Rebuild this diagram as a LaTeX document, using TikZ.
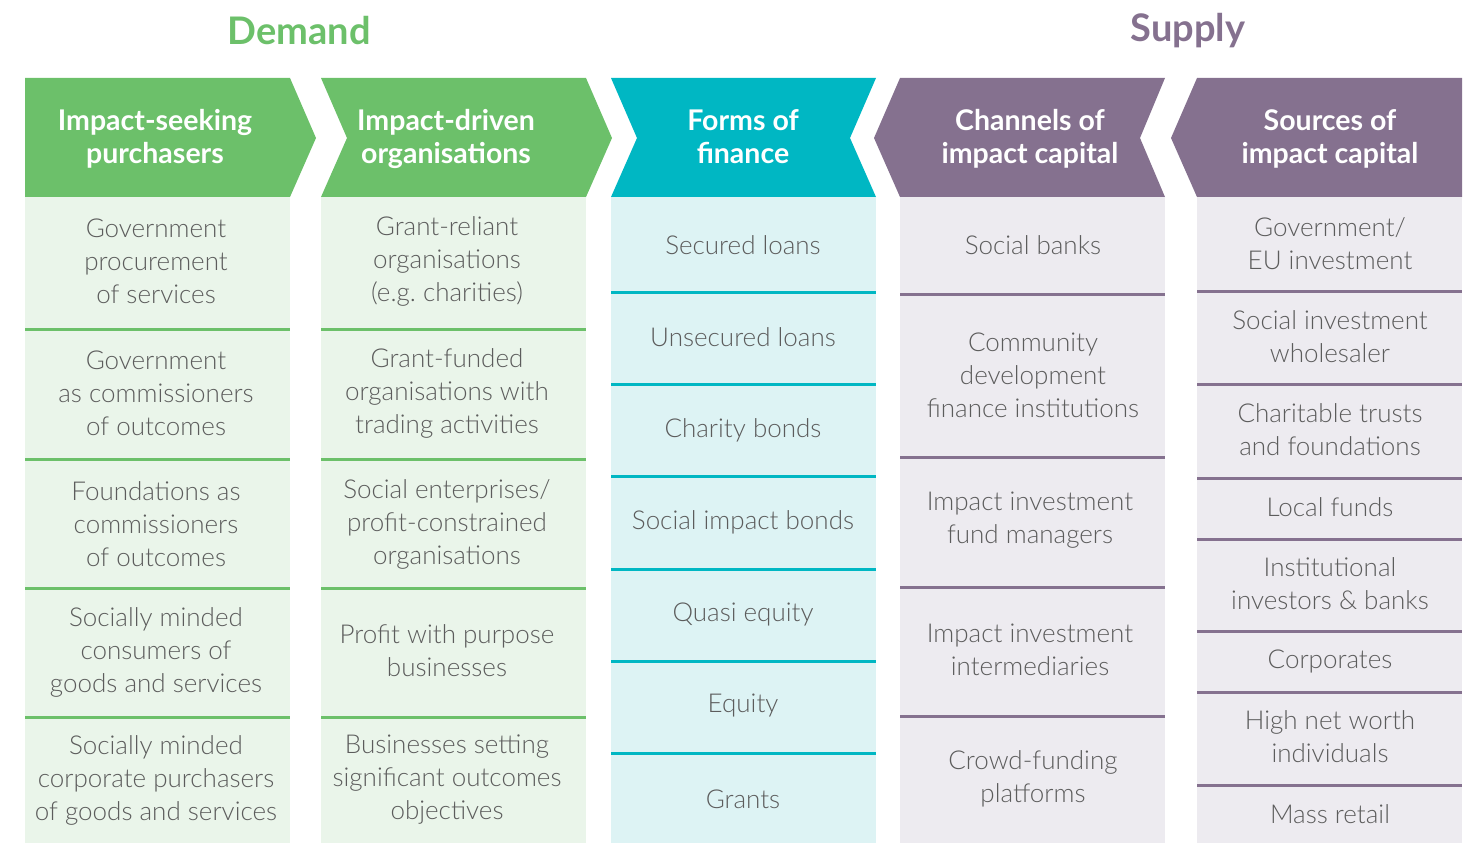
\documentclass[tikz,border=0pt]{standalone}
\usepackage{fontspec}
\setmainfont{Lato}[UprightFont={* Light},BoldFont={* Bold}]
\definecolor{dgreen}{HTML}{6CC06A}
\definecolor{lgreen}{HTML}{EAF5EA}
\definecolor{dteal}{HTML}{00B7C3}
\definecolor{lteal}{HTML}{DDF3F4}
\definecolor{dpurple}{HTML}{85718F}
\definecolor{lpurple}{HTML}{EDEBF0}
\definecolor{txtgray}{HTML}{5C5C5C}
\tikzset{
  hdr/.style={text=white,font=\fontsize{28.5}{33}\selectfont\bfseries,align=center},
  cell/.style={text=txtgray,font=\fontsize{26}{33}\selectfont,align=center},
  ttl/.style={font=\fontsize{38}{42}\selectfont\bfseries},
  sep/.style={line width=3pt}
}
\begin{document}
\begin{tikzpicture}[x=1pt,y=-1pt]
\useasboundingbox (0,0) rectangle (1465,843);
% titles
\node[ttl,text=dgreen] (demand) at (299,31) {Demand};
\node[ttl,text=dpurple] (supply) at (1188,31) {Supply};
% header arrows
\fill[dgreen] (25,78) -- (290,78) -- (316,138) -- (290,197) -- (25,197) -- cycle;
\fill[dgreen] (321,78) -- (586,78) -- (612,138) -- (586,197) -- (321,197) -- (347,138) -- cycle;
\fill[dteal] (611,78) -- (876,78) -- (850,138) -- (876,197) -- (611,197) -- (637,138) -- cycle;
\fill[dpurple] (900,78) -- (1165,78) -- (1140,138) -- (1165,197) -- (900,197) -- (874,138) -- cycle;
\fill[dpurple] (1197,78) -- (1462,78) -- (1462,197) -- (1197,197) -- (1171,138) -- cycle;
\node[hdr] (h1) at (155,139) {Impact-seeking\\purchasers};
\node[hdr] (h2) at (446,139) {Impact-driven\\organisations};
\node[hdr] (h3) at (743,137) {Forms of\\finance};
\node[hdr] (h4) at (1030,139) {Channels of\\impact capital};
\node[hdr] (h5) at (1330,139) {Sources of\\impact capital};
% column bodies
\fill[lgreen] (25,197) rectangle (290,843);
\fill[lgreen] (321,197) rectangle (586,843);
\fill[lteal] (611,197) rectangle (876,843);
\fill[lpurple] (900,197) rectangle (1165,843);
\fill[lpurple] (1197,197) rectangle (1462,843);
% row separators
\foreach \y in {329,459,588,717}{
  \draw[sep,dgreen] (25,\y) -- (290,\y);
  \draw[sep,dgreen] (321,\y) -- (586,\y);
}
\foreach \y in {292,384,476,569,661,753}
  \draw[sep,dteal] (611,\y) -- (876,\y);
\foreach \y in {294,457,587,716}
  \draw[sep,dpurple] (900,\y) -- (1165,\y);
\foreach \y in {291,384,478,539,631,692,785}
  \draw[sep,dpurple] (1197,\y) -- (1462,\y);
% impact-seeking purchasers
\node[cell] (c11) at (156,261) {Government\\procurement\\of services};
\node[cell] (c12) at (156,393) {Government\\as commissioners\\of outcomes};
\node[cell] (c13) at (156,524) {Foundations as\\commissioners\\of outcomes};
\node[cell] (c14) at (156,652) {Socially minded\\consumers of\\goods and services};
\node[cell] (c15) at (156,780) {Socially minded\\corporate purchasers\\of goods and services};
% impact-driven organisations
\node[cell] (c21) at (447,261) {Grant-reliant\\organisations\\(e.g.\ charities)};
\node[cell] (c22) at (447,393) {Grant-funded\\organisations with\\trading activities};
\node[cell] (c23) at (447,524) {Social enterprises/\\profit-constrained\\organisations};
\node[cell] (c24) at (447,651) {Profit with purpose\\businesses};
\node[cell] (c25) at (447,780) {Businesses setting\\significant outcomes\\objectives};
% forms of finance
\node[cell] (c31) at (743,245) {Secured loans};
\node[cell] (c32) at (743,337) {Unsecured loans};
\node[cell] (c33) at (743,430) {Charity bonds};
\node[cell] (c34) at (743,522) {Social impact bonds};
\node[cell] (c35) at (743,614) {Quasi equity};
\node[cell] (c36) at (743,706) {Equity};
\node[cell] (c37) at (743,799) {Grants};
% channels of impact capital
\node[cell] (c41) at (1033,245) {Social banks};
\node[cell] (c42) at (1033,375) {Community\\development\\finance institutions};
\node[cell] (c43) at (1030,520) {Impact investment\\fund managers};
\node[cell] (c44) at (1030,650) {Impact investment\\intermediaries};
\node[cell] (c45) at (1033,779) {Crowd-funding\\platforms};
% sources of impact capital
\node[cell] (c51) at (1330,244) {Government/\\EU investment};
\node[cell] (c52) at (1330,337) {Social investment\\wholesaler};
\node[cell] (c53) at (1330,430) {Charitable trusts\\and foundations};
\node[cell] (c54) at (1330,507) {Local funds};
\node[cell] (c55) at (1330,584) {Institutional\\investors \& banks};
\node[cell] (c56) at (1330,661) {Corporates};
\node[cell] (c57) at (1330,737) {High net worth\\individuals};
\node[cell] (c58) at (1330,814) {Mass retail};
\end{tikzpicture}
\end{document}
